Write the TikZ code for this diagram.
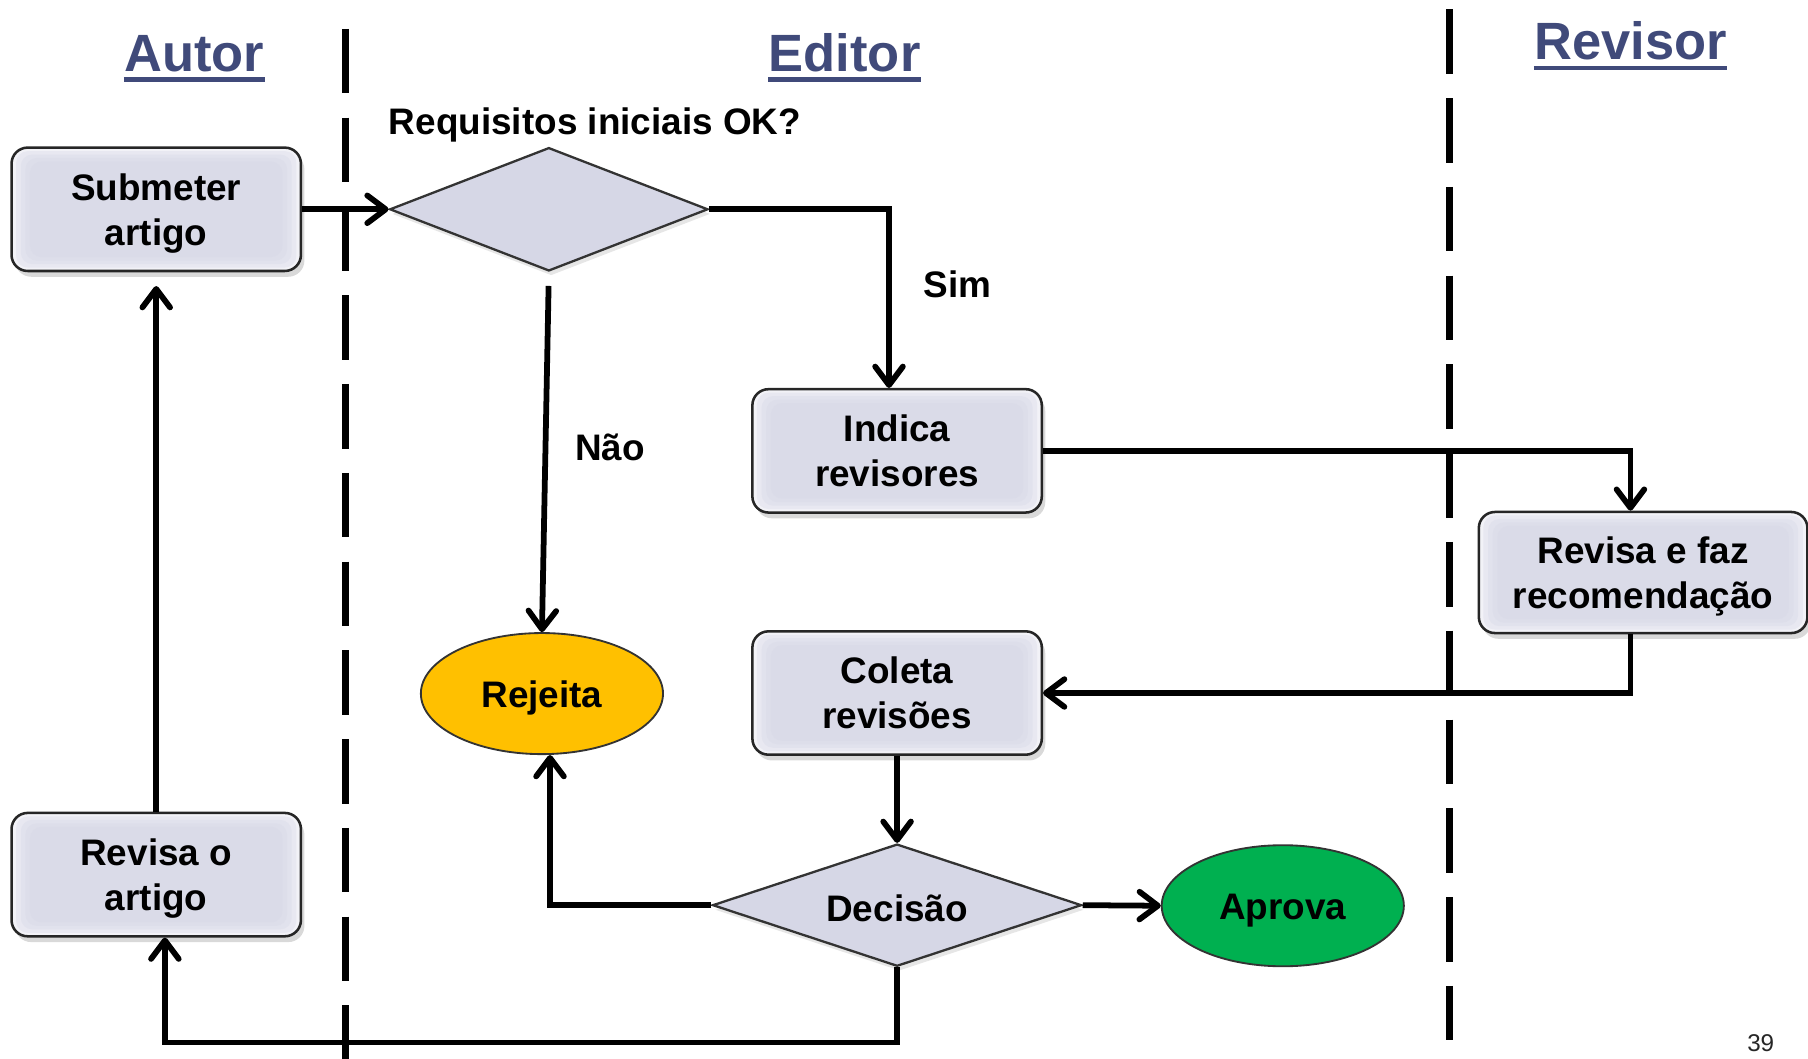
\documentclass[tikz,border=0pt]{standalone}
\usepackage{fontspec}
\setmainfont{Liberation Sans}
\usetikzlibrary{arrows.meta,shapes.geometric,shadows,calc}
\definecolor{titlecol}{RGB}{64,74,122}
\definecolor{boxfill}{RGB}{214,215,230}
\definecolor{boxedge}{RGB}{242,242,247}
\definecolor{rejfill}{RGB}{255,192,0}
\definecolor{aprfill}{RGB}{0,176,80}
\begin{document}
\begin{tikzpicture}[x=0.5pt,y=-0.5pt,
  every node/.style={font=\bfseries\fontsize{16}{19.5}\selectfont},
  procbox/.style={draw=black!85, line width=1.1pt, rounded corners=7pt, fill=boxedge,
    minimum width=125.5pt, minimum height=53.5pt, align=center, inner sep=0pt, text depth=0pt,
    drop shadow={opacity=0.3,shadow xshift=1.5pt,shadow yshift=-2.5pt},
    path picture={
      \foreach \dx/\dy in {2/1.5,4/3,6/4.5,8/6}{
      \fill[boxfill, fill opacity=0.35, rounded corners=5pt]
      ($(path picture bounding box.south west)+(\dx pt,\dy pt)$) rectangle
      ($(path picture bounding box.north east)+(-\dx pt,-\dy pt)$);}}},
  decision/.style={diamond, draw=black!80, line width=1pt, fill=boxfill, aspect=3,
    inner sep=0pt, text height=14.5pt, text depth=0pt,
    drop shadow={opacity=0.2,shadow xshift=1pt,shadow yshift=-2pt}},
  terminal/.style={ellipse, draw=black!80, line width=0.8pt, inner sep=0pt,
    text height=12pt, text depth=0pt,
    minimum width=105pt, minimum height=52.5pt},
  lanedash/.style={line width=3pt, dash pattern=on 28pt off 10.5pt},
  conn/.style={line width=2.5pt, -{Straight Barb[length=8pt,width=12pt,round]}},
  lanetitle/.style={font=\bfseries\fontsize{22.75}{26}\selectfont, text=titlecol, inner sep=0pt, anchor=base},
  uline/.style={titlecol, line width=2pt},
  lbl/.style={inner sep=0pt, anchor=base}
]
\useasboundingbox (0,0) rectangle (1568,918);

% lanes
\draw[lanedash] (300,25) -- (300,918);
\draw[lanedash] (1257,8) -- (1257,902);

% titles
\node[lanetitle] (tA) at (168.5,62) {Autor};
\node[lanetitle] (tE) at (732.5,62) {Editor};
\node[lanetitle] (tR) at (1414,52) {Revisor};
\draw[uline] ($(tA.base west)+(0,7)$) -- ($(tA.base east)+(0,7)$);
\draw[uline] ($(tE.base west)+(0,7)$) -- ($(tE.base east)+(0,7)$);
\draw[uline] ($(tR.base west)+(0,7)$) -- ($(tR.base east)+(0,7)$);

% nodes
\node[procbox] (sub) at (135.5,181.5) {Submeter\\artigo};
\node[decision, minimum width=138pt, minimum height=53.5pt] (req) at (476,181.5) {};
\node[lbl] (reqt) at (516,117) {Requisitos iniciais OK?};
\node[procbox] (ind) at (778,391) {Indica\\revisores};
\node[procbox, minimum width=142.5pt, minimum height=52.5pt] (rev) at (1425,496.5) {Revisa e faz\\recomendação};
\node[procbox] (col) at (778,601) {Coleta\\revisões};
\node[terminal, fill=rejfill] (rej) at (470,601.5) {Rejeita};
\node[decision, minimum width=160pt, minimum height=53pt] (dec) at (778,785) {Decisão};
\node[terminal, fill=aprfill] (apr) at (1112.5,785.5) {Aprova};
\node[procbox] (rva) at (135.5,758.5) {Revisa o\\artigo};

\node[lbl] (sim) at (830.5,258) {Sim};
\node[lbl] (nao) at (529,399) {Não};
\node[font=\fontsize{10.5}{12}\selectfont, text=black!85] (pg) at (1527,905) {39};

% connectors
\draw[conn] (sub.east) -- (req.west);
\draw[conn] (req.east) -| ($(ind.north)+(-7,0)$);
\draw[conn, shorten <=6pt] (req.south) -- (rej.north);
\draw[conn] (ind.east) -| ($(rev.north)+(-11,0)$);
\draw[conn] ($(rev.south)+(-11,0)$) |- (col.east);
\draw[conn] (col.south) -- (dec.north);
\draw[conn] (dec.west) -| ($(rej.south)+(7,0)$);
\draw[conn] (dec.east) -- (apr.west);
\draw[conn] (dec.south) -- ++(0,65) -| ($(rva.south)+(7.5,0)$);
\draw[conn, shorten >=6pt] (rva.north) -- (sub.south);
\end{tikzpicture}
\end{document}
